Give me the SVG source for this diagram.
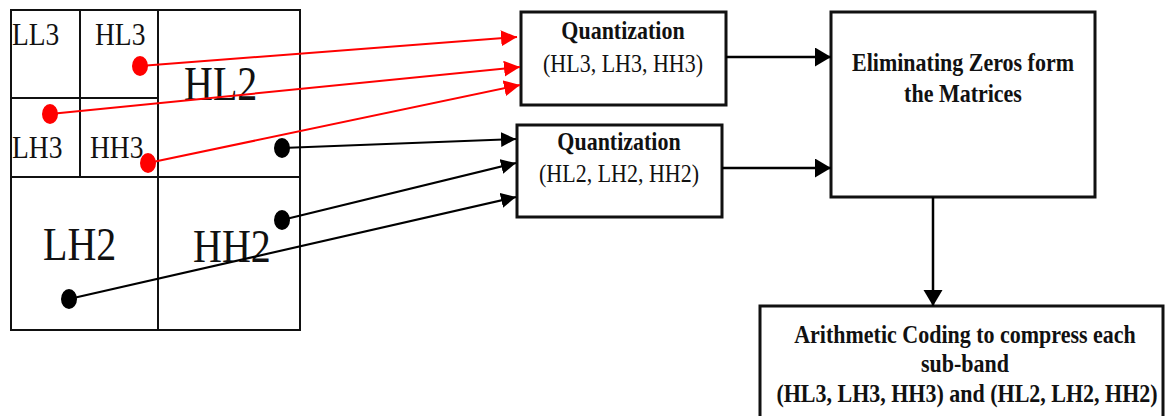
<svg xmlns="http://www.w3.org/2000/svg" width="1169" height="416" viewBox="0 0 1169 416">
  <defs>
    <style>
      .grid { fill: none; stroke: #111; stroke-width: 2; }
      .box { fill: #fff; stroke: #111; stroke-width: 3; }
      .band { font-family: "Liberation Serif", "Times New Roman", serif; fill: #111; }
      .small { font-size: 27.5px; }
      .big { font-size: 40px; }
      .title { font-family: "Liberation Serif", "Times New Roman", serif; font-size: 22px; font-weight: bold; fill: #111; text-anchor: middle; }
      .sub { font-family: "Liberation Serif", "Times New Roman", serif; font-size: 22px; fill: #111; text-anchor: middle; }
      .red { stroke: #ff0000; stroke-width: 2; fill: none; }
      .blk { stroke: #000; stroke-width: 2.2; fill: none; }
      .flow { stroke: #000; stroke-width: 2.5; fill: none; }
    </style>
    <marker id="headRed" markerUnits="userSpaceOnUse" markerWidth="17" markerHeight="17" refX="16" refY="8" orient="auto">
      <path d="M0,0 L16,8 L0,16 z" fill="#ff0000"/>
    </marker>
    <marker id="headBlk" markerUnits="userSpaceOnUse" markerWidth="17" markerHeight="17" refX="15" refY="7.5" orient="auto">
      <path d="M0,0 L15,7.5 L0,15 z" fill="#000"/>
    </marker>
    <marker id="headFlow" markerUnits="userSpaceOnUse" markerWidth="18" markerHeight="20" refX="16" refY="9.5" orient="auto">
      <path d="M0,0 L16,9.5 L0,19 z" fill="#000"/>
    </marker>
  </defs>

  <!-- wavelet sub-band layout -->
  <g id="subbands">
    <rect class="grid" x="11" y="10" width="289" height="320"/>
    <line class="grid" x1="11" y1="177" x2="300" y2="177"/>
    <line class="grid" x1="158" y1="10" x2="158" y2="330"/>
    <line class="grid" x1="11" y1="98" x2="158" y2="98"/>
    <line class="grid" x1="80" y1="10" x2="80" y2="177"/>
    <text class="band small" transform="translate(12,45) scale(1,1.12)">LL3</text>
    <text class="band small" transform="translate(95,45) scale(1,1.12)">HL3</text>
    <text class="band small" transform="translate(12,158) scale(1,1.12)">LH3</text>
    <text class="band small" transform="translate(90,158) scale(1,1.12)">HH3</text>
    <text class="band big" transform="translate(184,100) scale(1,1.22)">HL2</text>
    <text class="band big" transform="translate(43,260) scale(1,1.18)">LH2</text>
    <text class="band big" transform="translate(193,262) scale(1,1.18)">HH2</text>
  </g>

  <g id="quant3">
    <rect class="box" x="521" y="12" width="205" height="93"/>
    <text class="title" transform="translate(623,39) scale(1,1.12)">Quantization</text>
    <text class="sub" transform="translate(623,72) scale(1,1.12)">(HL3, LH3, HH3)</text>
  </g>

  <g id="quant2">
    <rect class="box" x="517" y="125" width="205" height="92"/>
    <text class="title" transform="translate(619,150) scale(1,1.12)">Quantization</text>
    <text class="sub" transform="translate(619,182) scale(1,1.12)">(HL2, LH2, HH2)</text>
  </g>

  <g id="eliminate">
    <rect class="box" x="831" y="12" width="264" height="185"/>
    <text class="title" transform="translate(963,71) scale(1,1.12)">Eliminating Zeros form</text>
    <text class="title" transform="translate(963,102) scale(1,1.12)">the Matrices</text>
  </g>

  <g id="arith">
    <rect class="box" x="760" y="306" width="403" height="115"/>
    <text class="title" transform="translate(965,343) scale(1,1.12)">Arithmetic Coding to compress each</text>
    <text class="title" transform="translate(965,372) scale(1,1.12)">sub-band</text>
    <text class="title" transform="translate(967,402) scale(1,1.12)">(HL3, LH3, HH3) and (HL2, LH2, HH2)</text>
  </g>

  <g id="connectors">
    <!-- level 3 coefficients -->
    <line class="red" x1="140" y1="66" x2="517" y2="37" marker-end="url(#headRed)"/>
    <line class="red" x1="50" y1="114" x2="520" y2="67" marker-end="url(#headRed)"/>
    <line class="red" x1="148" y1="163" x2="520" y2="85" marker-end="url(#headRed)"/>
    <ellipse cx="140" cy="66" rx="8" ry="10" fill="#ff0000"/>
    <ellipse cx="50" cy="114" rx="8" ry="10" fill="#ff0000"/>
    <ellipse cx="148" cy="163" rx="8" ry="10" fill="#ff0000"/>
    <!-- level 2 coefficients -->
    <line class="blk" x1="282" y1="148" x2="516" y2="139" marker-end="url(#headBlk)"/>
    <line class="blk" x1="282" y1="220" x2="516" y2="163" marker-end="url(#headBlk)"/>
    <line class="blk" x1="69" y1="299" x2="516" y2="197" marker-end="url(#headBlk)"/>
    <ellipse cx="282" cy="148" rx="8" ry="10" fill="#000"/>
    <ellipse cx="282" cy="220" rx="8" ry="10" fill="#000"/>
    <ellipse cx="69" cy="299" rx="8" ry="10" fill="#000"/>
    <!-- processing flow -->
    <line class="flow" x1="726" y1="57" x2="831" y2="57" marker-end="url(#headFlow)"/>
    <line class="flow" x1="722" y1="168" x2="831" y2="168" marker-end="url(#headFlow)"/>
    <line class="flow" x1="933" y1="197" x2="933" y2="306" marker-end="url(#headFlow)"/>
  </g>
</svg>
